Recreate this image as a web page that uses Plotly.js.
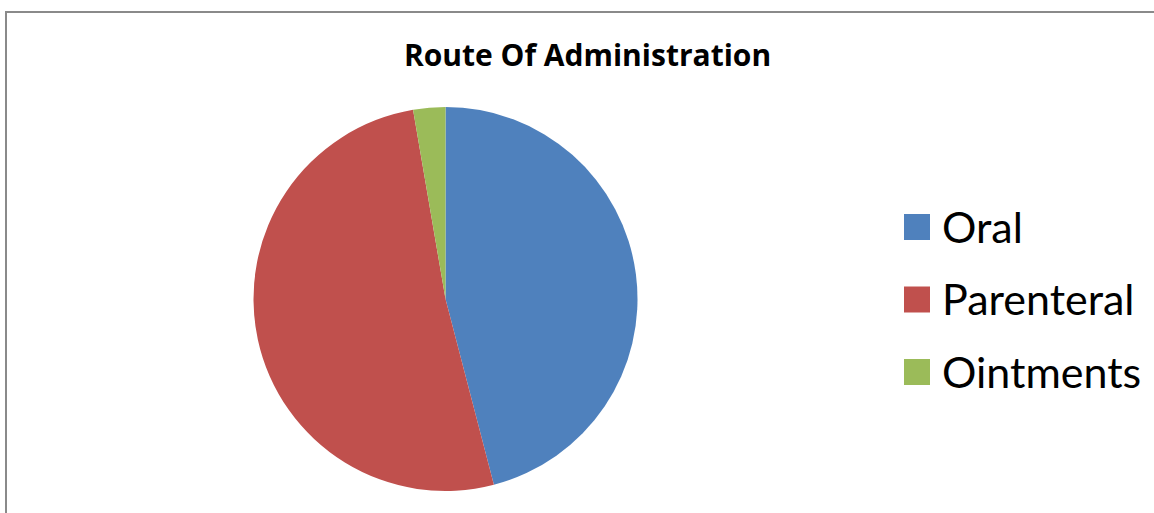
<!DOCTYPE html>
<html>
<head>
<meta charset="utf-8">
<script src="https://cdn.plot.ly/plotly-3.0.1.min.js"></script>
<style>
  html, body { margin: 0; padding: 0; background: #ffffff; }
  #chart { width: 1154px; height: 513px; }
</style>
</head>
<body>
<div id="chart"></div>
<script>
// Data
const categories = ["Oral", "Parenteral", "Ointments"];
const counts = [17, 19, 1];
const sliceColors = ["#4F81BD", "#C0504D", "#9BBB59"];
const chartTitle = "Route Of Administration";

const W = 1154, H = 513;
const px = v => v / W;
const py = v => 1 - v / H;

const trace = {
  type: "pie",
  labels: categories,
  values: counts,
  sort: false,
  direction: "clockwise",
  rotation: 0,
  textinfo: "none",
  hoverinfo: "label+value+percent",
  showlegend: false,
  marker: { colors: sliceColors, line: { width: 0 } },
  domain: { x: [px(253.5), px(637.5)], y: [py(491), py(107)] }
};

// Legend built from categories / colours
const shapes = [];
const annotations = [];
const legendTop = 227, legendStep = 72.5, sw = 26;
categories.forEach((c, i) => {
  const cy = legendTop + i * legendStep;
  shapes.push({
    type: "rect", xref: "paper", yref: "paper",
    x0: px(904), x1: px(904 + sw), y0: py(cy - sw / 2), y1: py(cy + sw / 2),
    fillcolor: sliceColors[i], line: { width: 0 }
  });
  annotations.push({
    xref: "paper", yref: "paper", x: px(940), y: py(cy - 1),
    xanchor: "left", yanchor: "middle", showarrow: false,
    text: c, font: { family: "Lato, sans-serif", size: 43, color: "#000000" }
  });
});

// outer chart frame
shapes.push({
  type: "rect", xref: "paper", yref: "paper",
  x0: px(6), x1: px(1170), y0: py(530), y1: py(12),
  line: { color: "#8a8a8a", width: 2 }, fillcolor: "rgba(0,0,0,0)"
});

const layout = {
  width: W, height: H,
  margin: { l: 0, r: 0, t: 0, b: 0, pad: 0 },
  paper_bgcolor: "#ffffff",
  plot_bgcolor: "#ffffff",
  showlegend: false,
  title: {
    text: "<b>" + chartTitle + "</b>",
    x: px(587.5), xanchor: "center",
    y: py(55), yanchor: "middle",
    xref: "paper", yref: "paper",
    font: { family: "Open Sans, sans-serif", size: 30, color: "#000000" }
  },
  shapes: shapes,
  annotations: annotations
};

Plotly.newPlot("chart", [trace], layout, { displayModeBar: false, staticPlot: true });
</script>
</body>
</html>
